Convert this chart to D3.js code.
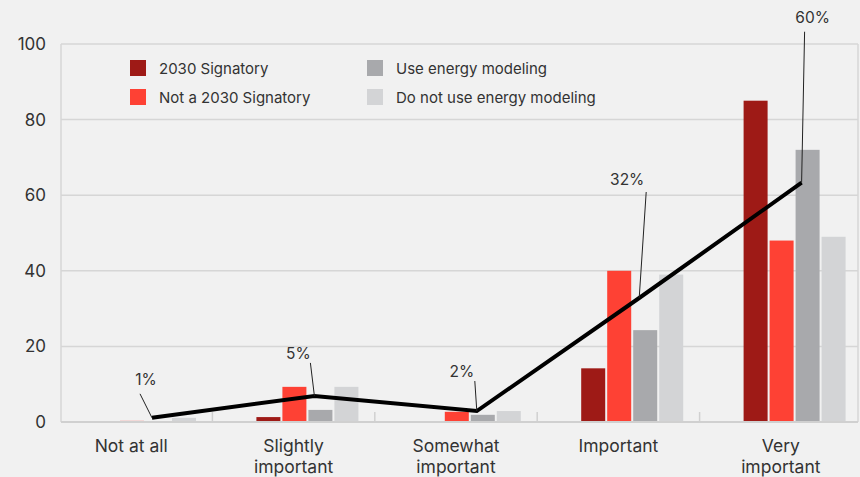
<!DOCTYPE html>
<html>
<head>
<meta charset="utf-8">
<script src="https://cdn.jsdelivr.net/npm/d3@7"></script>
<style>
  html, body { margin: 0; padding: 0; background: #f1f1f1; }
  svg { display: block; font-family: Inter, "Noto Sans", sans-serif; }
</style>
</head>
<body>
<svg id="chart" width="860" height="477"></svg>
<script>
// ---- data ----
const categories = ["Not at all", "Slightly\nimportant", "Somewhat\nimportant", "Important", "Very\nimportant"];
const seriesNames = ["2030 Signatory", "Not a 2030 Signatory", "Use energy modeling", "Do not use energy modeling"];
const signatory    = [0,   1.3, 0,   14.2, 85];
const notSignatory = [0.3, 9.3, 2.7, 40,   48];
const useModeling  = [0,   3.2, 1.9, 24.3, 72];
const noModeling   = [1.1, 9.3, 2.9, 39,   49];
const lineValues   = [1.1, 6.9, 2.9, 32.8, 63.3];
const lineLabels   = ["1%", "5%", "2%", "32%", "60%"];
const yTicks       = [0, 20, 40, 60, 80, 100];

const seriesValues = [signatory, notSignatory, useModeling, noModeling];
const colors = ["#9e1a16", "#fe4134", "#a8a9ac", "#d3d4d6"];

// ---- layout ----
const svg = d3.select("#chart");
const plotLeft = 61, plotRight = 858;

const x = d3.scaleBand().domain(categories).range([50, 862]).padding(0);
const inner = d3.scaleBand().domain(seriesNames).range([44, 146]).paddingInner(2 / 26);
const y = d3.scaleLinear().domain([0, 100]).range([422, 44]);

// grid
const grid = svg.append("g");
grid.selectAll("line.grid").data(yTicks.filter(d => d > 0)).enter().append("line")
  .attr("x1", plotLeft).attr("x2", plotRight)
  .attr("y1", d => y(d)).attr("y2", d => y(d))
  .attr("stroke", "#d6d6d6").attr("stroke-width", 1.5);
grid.append("line").attr("x1", plotLeft).attr("x2", plotLeft).attr("y1", y(100)).attr("y2", y(0))
  .attr("stroke", "#d6d6d6").attr("stroke-width", 1.5);
grid.append("line").attr("x1", plotRight).attr("x2", plotRight).attr("y1", y(100)).attr("y2", y(0))
  .attr("stroke", "#d6d6d6").attr("stroke-width", 1.5);

// y axis labels
svg.append("g").selectAll("text").data(yTicks).enter().append("text")
  .attr("x", 46).attr("y", d => y(d) + 6)
  .attr("text-anchor", "end")
  .attr("font-size", 17).attr("fill", "#333")
  .text(d => d);

// bars
const groups = svg.append("g").selectAll("g").data(categories).enter().append("g")
  .attr("transform", d => `translate(${x(d)},0)`);
groups.selectAll("rect").data((c, i) => seriesNames.map((s, k) => ({ s, k, v: seriesValues[k][i] })))
  .enter().append("rect")
  .attr("x", d => inner(d.s))
  .attr("width", inner.bandwidth())
  .attr("y", d => y(d.v))
  .attr("height", d => y(0) - y(d.v))
  .attr("fill", d => colors[d.k]);

// bottom axis line + ticks
svg.append("line").attr("x1", plotLeft).attr("x2", plotRight).attr("y1", y(0)).attr("y2", y(0))
  .attr("stroke", "#d0d0d0").attr("stroke-width", 2);
svg.append("g").selectAll("line").data(categories.slice(1)).enter().append("line")
  .attr("x1", d => x(d)).attr("x2", d => x(d))
  .attr("y1", y(0) - 10).attr("y2", y(0))
  .attr("stroke", "#d0d0d0").attr("stroke-width", 1.5);

// category labels
const catText = svg.append("g").selectAll("text").data(categories).enter().append("text")
  .attr("x", d => x(d) + x.bandwidth() / 2)
  .attr("y", 452)
  .attr("text-anchor", "middle")
  .attr("font-size", 17.5).attr("fill", "#333");
catText.each(function(d) {
  const lines = d.split("\n");
  const t = d3.select(this);
  lines.forEach((ln, i) => {
    t.append("tspan").attr("x", x(d) + x.bandwidth() / 2).attr("dy", i === 0 ? 0 : 21).text(ln);
  });
});

// line
const lineX = (c) => x(c) + 102;
const line = d3.line().x((d, i) => lineX(categories[i])).y(d => y(d));
svg.append("path").datum(lineValues)
  .attr("d", line).attr("fill", "none")
  .attr("stroke", "#000").attr("stroke-width", 4).attr("stroke-linejoin", "miter");

// annotations: leader top relative to point, text relative to leader top
const annot = [
  { lx: -12, ly: -24, tx: 6, ty: -9 },
  { lx: -4, ly: -33, tx: -12, ty: -4 },
  { lx: -2, ly: -30, tx: -13, ty: -4 },
  { lx: 7, ly: -106, tx: -19, ty: -7 },
  { lx: 3, ly: -151, tx: 8, ty: -9 }
];
const ann = svg.append("g");
lineValues.forEach((v, i) => {
  const px = lineX(categories[i]), py = y(v);
  const a = annot[i];
  ann.append("line").attr("x1", px).attr("y1", py).attr("x2", px + a.lx).attr("y2", py + a.ly)
    .attr("stroke", "#222").attr("stroke-width", 1);
  ann.append("text").attr("x", px + a.lx + a.tx).attr("y", py + a.ly + a.ty)
    .attr("text-anchor", "middle").attr("font-size", 15.5).attr("fill", "#333")
    .text(lineLabels[i]);
});

// legend
const legendPos = [[130, 60], [130, 89], [367, 60], [367, 89]];
const lg = svg.append("g").selectAll("g").data(seriesNames).enter().append("g")
  .attr("transform", (d, i) => `translate(${legendPos[i][0]},${legendPos[i][1]})`);
lg.append("rect").attr("width", 16).attr("height", 16).attr("fill", (d, i) => colors[i]);
lg.append("text").attr("x", 29).attr("y", 13.5).attr("font-size", 15).attr("fill", "#333").text(d => d);
</script>
</body>
</html>
